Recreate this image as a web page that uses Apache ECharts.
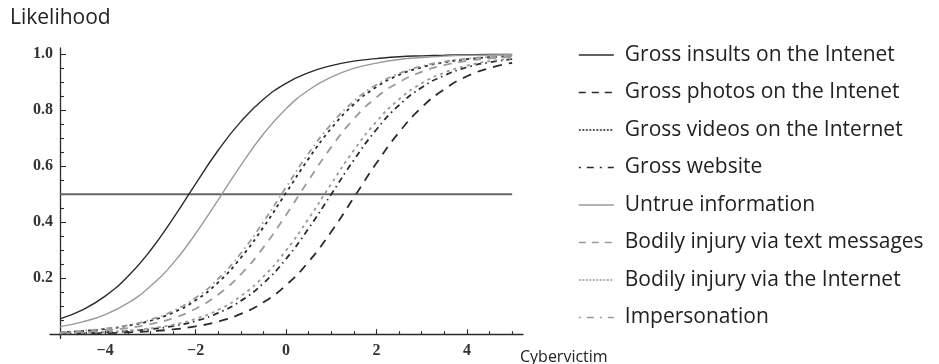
<!DOCTYPE html>
<html>
<head>
<meta charset="utf-8">
<script src="https://cdn.jsdelivr.net/npm/echarts@6/dist/echarts.min.js"></script>
<style>
  html, body { margin: 0; padding: 0; background: #fff; }
  #chart { width: 939px; height: 364px; }
</style>
</head>
<body>
<div id="chart"></div>
<script>
// Trait level (Cybervictim) sampled every half unit
const xValues = [-5, -4.5, -4, -3.5, -3, -2.5, -2, -1.5, -1, -0.5, 0, 0.5, 1, 1.5, 2, 2.5, 3, 3.5, 4, 4.5, 5];

// Likelihood curves for each item
const grossInsults   = [0.055, 0.087, 0.136, 0.206, 0.299, 0.413, 0.537, 0.657, 0.759, 0.839, 0.896, 0.934, 0.959, 0.975, 0.984, 0.991, 0.994, 0.996, 0.998, 0.999, 0.999];
const grossPhotos    = [0.0014, 0.0024, 0.0039, 0.0064, 0.0105, 0.0171, 0.0279, 0.0452, 0.0724, 0.114, 0.175, 0.259, 0.366, 0.488, 0.611, 0.721, 0.810, 0.875, 0.921, 0.950, 0.969];
const grossVideos    = [0.0068, 0.0112, 0.0183, 0.030, 0.048, 0.077, 0.121, 0.185, 0.273, 0.382, 0.505, 0.627, 0.735, 0.821, 0.883, 0.926, 0.953, 0.971, 0.982, 0.989, 0.993];
const grossWebsite   = [0.0025, 0.0041, 0.0067, 0.011, 0.018, 0.029, 0.047, 0.076, 0.119, 0.182, 0.269, 0.378, 0.500, 0.622, 0.731, 0.818, 0.881, 0.924, 0.953, 0.971, 0.982];
const untrueInfo     = [0.027, 0.044, 0.070, 0.111, 0.171, 0.253, 0.359, 0.480, 0.603, 0.715, 0.805, 0.872, 0.918, 0.949, 0.968, 0.981, 0.988, 0.993, 0.996, 0.997, 0.998];
const injuryText     = [0.0050, 0.0082, 0.0134, 0.0219, 0.0356, 0.0573, 0.0911, 0.142, 0.214, 0.310, 0.426, 0.550, 0.668, 0.769, 0.846, 0.900, 0.937, 0.961, 0.976, 0.985, 0.991];
const injuryInternet = [0.0029, 0.0047, 0.0078, 0.0127, 0.0208, 0.0339, 0.0547, 0.087, 0.136, 0.206, 0.299, 0.413, 0.537, 0.657, 0.759, 0.839, 0.896, 0.934, 0.959, 0.975, 0.984];
const impersonation  = [0.0074, 0.012, 0.020, 0.032, 0.052, 0.083, 0.130, 0.198, 0.289, 0.401, 0.525, 0.646, 0.750, 0.832, 0.891, 0.931, 0.957, 0.973, 0.984, 0.990, 0.994];

// Reference level drawn across the plot
const threshold = 0.5;
const thresholdRange = [-5, 5];

// Tick positions
const xMajorTicks = [-4, -2, 0, 2, 4];
const xMinorTicks = [-4.5, -3.5, -3, -2.5, -1.5, -1, -0.5, 0.5, 1, 1.5, 2.5, 3, 3.5, 4.5, 5];
const yMajorTicks = [0.2, 0.4, 0.6, 0.8, 1.0];
const yMinorTicks = [0.05, 0.1, 0.15, 0.25, 0.3, 0.35, 0.45, 0.5, 0.55, 0.65, 0.7, 0.75, 0.85, 0.9, 0.95];

const DARK = '#2b2b2b';
const GREY = '#9a9a9a';

const curves = [
  { name: 'Gross insults on the Intenet',      values: grossInsults,   color: DARK, dash: 'solid',        legendDash: 'solid',        width: 1.4 },
  { name: 'Gross photos on the Intenet',       values: grossPhotos,    color: DARK, dash: [9, 7],         legendDash: [7, 6],         width: 1.8 },
  { name: 'Gross videos on the Internet',      values: grossVideos,    color: DARK, dash: [3, 4],         legendDash: [2, 1.5],       width: 1.8 },
  { name: 'Gross website',                     values: grossWebsite,   color: DARK, dash: [6, 4, 1.5, 4], legendDash: [2, 6, 7, 6],   width: 1.8 },
  { name: 'Untrue information',                values: untrueInfo,     color: GREY, dash: 'solid',        legendDash: 'solid',        width: 1.4 },
  { name: 'Bodily injury via text messages',   values: injuryText,     color: GREY, dash: [8, 7],         legendDash: [7, 6],         width: 1.8 },
  { name: 'Bodily injury via the Internet',    values: injuryInternet, color: GREY, dash: [3, 4],         legendDash: [2, 1.5],       width: 1.8 },
  { name: 'Impersonation',                     values: impersonation,  color: GREY, dash: [6, 4, 1.5, 4], legendDash: [2, 6, 7, 6],   width: 1.8 }
];

const X_MIN = -5.22, X_MAX = 5.24;
const Y_MIN = -0.015, Y_MAX = 1.022;

const serif = 'Liberation Serif';
const sans = 'Open Sans';

function fmtX(v) {
  return v < 0 ? '\u2212' + Math.abs(v) : String(v);
}

const axisLineStyle = { color: '#2b2b2b', width: 1.3 };
const tickStyle = { color: '#2b2b2b', width: 1.1 };

const chart = echarts.init(document.getElementById('chart'), null, { renderer: 'canvas' });

const series = curves.map(c => ({
  name: c.name,
  type: 'line',
  smooth: true,
  symbol: 'none',
  xAxisIndex: 0,
  yAxisIndex: 0,
  lineStyle: { color: c.color, width: c.width, type: c.dash },
  itemStyle: { color: c.color },
  data: xValues.map((x, i) => [x, c.values[i]]),
  z: 3
}));

series.push({
  name: 'threshold',
  type: 'line',
  symbol: 'none',
  silent: true,
  xAxisIndex: 0,
  yAxisIndex: 0,
  lineStyle: { color: '#666', width: 2 },
  data: thresholdRange.map(x => [x, threshold]),
  z: 2
});

chart.setOption({
  animation: false,
  backgroundColor: '#fff',
  title: [
    { text: 'Likelihood', left: 5, top: 3, textStyle: { fontFamily: sans, fontSize: 21, fontWeight: 'normal', color: '#222' } },
    { text: 'Cybervictim', left: 515, top: 344, textStyle: { fontFamily: sans, fontSize: 16, fontWeight: 'normal', color: '#222' } }
  ],
  grid: {
    left: 50, top: 48, width: 473, height: 290.4,
    containLabel: false, outerBoundsMode: 'none'
  },
  legend: {
    orient: 'vertical',
    left: 573, top: 38,
    itemWidth: 35, itemHeight: 14, itemGap: 13.5,
    selectedMode: false,
    textStyle: { fontFamily: sans, fontSize: 21, color: '#222', lineHeight: 24, padding: [0, 0, 0, 6] },
    data: curves.map(c => ({
      name: c.name,
      itemStyle: { color: 'rgba(0,0,0,0)', borderColor: 'rgba(0,0,0,0)', borderWidth: 0, opacity: 0 },
      lineStyle: { color: c.color, width: 1.6, type: c.legendDash, opacity: 1 }
    }))
  },
  xAxis: [
    {
      type: 'value', min: X_MIN, max: X_MAX,
      axisLine: { show: true, onZero: true, lineStyle: axisLineStyle },
      axisTick: { show: true, inside: true, length: 5, customValues: xMajorTicks, lineStyle: tickStyle },
      axisLabel: { show: true, customValues: xMajorTicks, formatter: fmtX, margin: 4, fontFamily: serif, fontSize: 16, fontWeight: 'bold', color: '#333' },
      splitLine: { show: false }
    },
    {
      type: 'value', min: X_MIN, max: X_MAX, position: 'bottom',
      axisLine: { show: false, onZero: true },
      axisTick: { show: true, inside: true, length: 3, customValues: xMinorTicks, lineStyle: tickStyle },
      axisLabel: { show: false },
      splitLine: { show: false }
    }
  ],
  yAxis: [
    {
      type: 'value', min: Y_MIN, max: Y_MAX, position: 'left', offset: -10,
      axisLine: { show: true, onZero: false, lineStyle: axisLineStyle },
      axisTick: { show: true, inside: true, length: 6, customValues: yMajorTicks, lineStyle: tickStyle },
      axisLabel: { show: true, customValues: yMajorTicks, formatter: v => v.toFixed(1), margin: 7, fontFamily: serif, fontSize: 16, fontWeight: 'bold', color: '#333' },
      splitLine: { show: false }
    },
    {
      type: 'value', min: Y_MIN, max: Y_MAX, position: 'left', offset: -10,
      axisLine: { show: false, onZero: false },
      axisTick: { show: true, inside: true, length: 4, customValues: yMinorTicks, lineStyle: tickStyle },
      axisLabel: { show: false },
      splitLine: { show: false }
    }
  ],
  series: series
});
</script>
</body>
</html>
